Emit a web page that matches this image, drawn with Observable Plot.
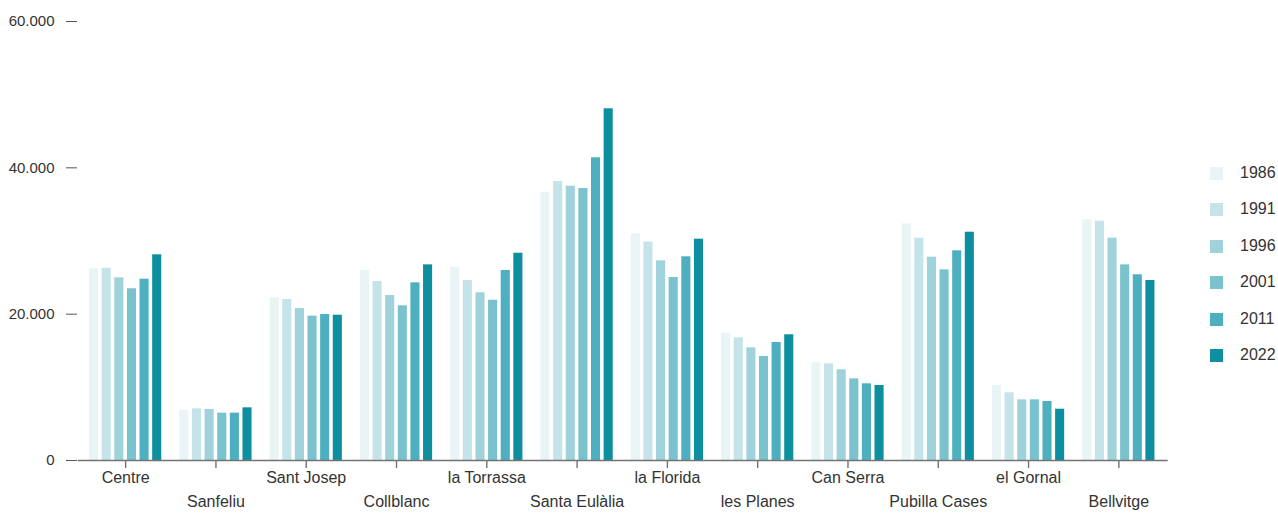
<!DOCTYPE html>
<html>
<head>
<meta charset="utf-8">
<script src="https://cdn.jsdelivr.net/npm/d3@7"></script>
<script src="https://cdn.jsdelivr.net/npm/@observablehq/plot@0.6"></script>
<style>
  html, body { margin: 0; padding: 0; background: #fff; }
  #wrap { position: relative; width: 1278px; height: 514px; font-family: "Liberation Sans", Arial, sans-serif; }
  #legend { position: absolute; left: 1210px; top: 0; }
  .item { position: absolute; left: 0; width: 70px; height: 16px; font-size: 16px; color: #333; }
  .sw { position: absolute; left: 0; top: 1px; width: 13px; height: 13px; }
  .lab { position: absolute; left: 30px; top: -1px; line-height: 16px; }
</style>
</head>
<body>
<div id="wrap"><div id="chart"></div><div id="legend"></div></div>
<script>
const districts = ["Centre", "Sanfeliu", "Sant Josep", "Collblanc", "la Torrassa", "Santa Eulàlia", "la Florida", "les Planes", "Can Serra", "Pubilla Cases", "el Gornal", "Bellvitge"];
const years = ["1986", "1991", "1996", "2001", "2011", "2022"];
const v1986 = [26200, 6830, 22240, 25970, 26420, 36670, 30980, 17400, 13350, 32350, 10250, 32890];
const v1991 = [26280, 7060, 22000, 24460, 24600, 38130, 29840, 16770, 13210, 30380, 9250, 32710];
const v1996 = [24970, 6970, 20770, 22550, 22920, 37490, 27290, 15400, 12400, 27790, 8290, 30380];
const v2001 = [23470, 6470, 19730, 21140, 21910, 37170, 25010, 14210, 11160, 26060, 8290, 26740];
const v2011 = [24780, 6470, 19950, 24280, 25970, 41370, 27840, 16130, 10480, 28660, 8060, 25380];
const v2022 = [28110, 7200, 19860, 26740, 28330, 48070, 30250, 17180, 10250, 31200, 7010, 24600];
const yTicks = [0, 20000, 40000, 60000];
const colors = ["#e8f4f6", "#c4e4ea", "#9fd2db", "#7ac2cd", "#4dafbf", "#0d8f9f"];

const series = [v1986, v1991, v1996, v2001, v2011, v2022];
const table = [];
districts.forEach((d, i) => years.forEach((y, j) => table.push({district: d, year: y, value: series[j][i]})));
const labels = districts.map((d, i) => ({d, i}));
const fmt = v => d3.format(",")(v).replace(/,/g, ".");

const chart = Plot.plot({
  width: 1278,
  height: 514,
  marginLeft: 80,
  marginRight: 114.5,
  marginTop: 21,
  marginBottom: 54,
  style: {fontFamily: "Liberation Sans, Arial, sans-serif", fontSize: "16px", color: "#333", background: "#fff"},
  fx: {domain: districts, paddingInner: 0.2, paddingOuter: 0.1, round: false, label: null},
  x: {domain: years, paddingInner: 0.28, paddingOuter: 0, round: false, axis: null},
  y: {domain: [0, 60000], label: null},
  color: {domain: years, range: colors},
  marks: [
    Plot.barY(table, {fx: "district", x: "year", y: "value", fill: "year"}),
    Plot.frame({anchor: "bottom", facet: "super", stroke: "#737373", strokeWidth: 1.4, insetLeft: -11, insetRight: -12}),
    Plot.axisFx({anchor: "bottom", tickSize: 8, tickFormat: () => "", stroke: "#737373", strokeWidth: 1.4, label: null}),
    Plot.text(labels.filter(o => o.i % 2 === 0), {fx: "d", text: "d", frameAnchor: "bottom", dy: 22, fill: "#333", fontSize: 16}),
    Plot.text(labels.filter(o => o.i % 2 === 1), {fx: "d", text: "d", frameAnchor: "bottom", dy: 46, fill: "#333", fontSize: 16}),
    Plot.axisY({ticks: yTicks, tickFormat: fmt, tickSize: 11, tickPadding: 12, dx: -12, label: null, fontSize: 15, fill: "#333", stroke: "#555"})
  ]
});
document.getElementById("chart").appendChild(chart);

const legend = document.getElementById("legend");
const tops = [174, 210.4, 246.8, 283.2, 319.6, 356];
years.forEach((y, j) => {
  const it = document.createElement("div");
  it.className = "item";
  it.style.top = (tops[j] - 8) + "px";
  it.innerHTML = `<div class="sw" style="background:${colors[j]}"></div><div class="lab">${y}</div>`;
  legend.appendChild(it);
});
</script>
</body>
</html>
